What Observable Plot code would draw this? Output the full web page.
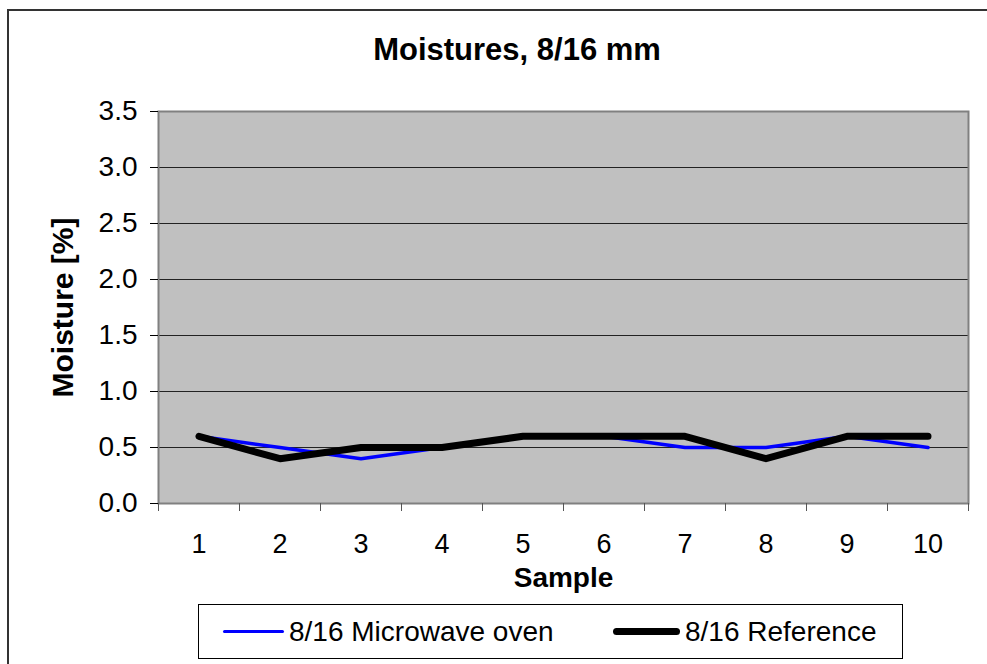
<!DOCTYPE html>
<html>
<head>
<meta charset="utf-8">
<script src="https://cdn.jsdelivr.net/npm/d3@7"></script>
<script src="https://cdn.jsdelivr.net/npm/@observablehq/plot@0.6"></script>
<style>
  html, body { margin: 0; padding: 0; background: #fff; }
  #chart { position: relative; width: 987px; height: 664px; overflow: hidden; font-family: "Liberation Sans", Arial, sans-serif; }
  #border { position: absolute; left: 7px; top: 9px; width: 990px; height: 700px; border: 2px solid #333; box-sizing: border-box; }
  #title { position: absolute; top: 32px; left: 517px; transform: translateX(-50%); font-weight: bold; font-size: 31px; line-height: 36px; white-space: nowrap; }
  #legend { position: absolute; left: 198px; top: 604px; width: 705px; height: 55px; border: 1px solid #000; box-sizing: border-box; font-size: 28px; }
  .item { position: absolute; top: 0; height: 53px; display: flex; align-items: center; white-space: nowrap; }
  .sw { display: inline-block; border-radius: 4px; margin-right: 5px; }
  #plot { position: absolute; left: 0; top: 0; }
</style>
</head>
<body>
<div id="chart">
  <div id="border"></div>
  <div id="plot"></div>
  <div id="title"></div>
  <div id="legend"></div>
</div>
<script>
const title = "Moistures, 8/16 mm";
const xLabel = "Sample";
const yLabel = "Moisture [%]";
const samples = [1, 2, 3, 4, 5, 6, 7, 8, 9, 10];
const microwave = [0.6, 0.5, 0.4, 0.5, 0.6, 0.6, 0.5, 0.5, 0.6, 0.5];
const reference = [0.6, 0.4, 0.5, 0.5, 0.6, 0.6, 0.6, 0.4, 0.6, 0.6];
const yTicks = [0, 0.5, 1.0, 1.5, 2.0, 2.5, 3.0, 3.5];
const seriesNames = ["8/16 Microwave oven", "8/16 Reference"];
const seriesColors = ["#0000ff", "#000000"];
const seriesWidths = [3.5, 7];

const rowsMw = samples.map((s, i) => ({sample: s, value: microwave[i]}));
const rowsRef = samples.map((s, i) => ({sample: s, value: reference[i]}));
const xEdges = d3.range(samples.length + 1).map(i => samples[0] - 0.5 + i);

const font = "Liberation Sans, Arial, sans-serif";

const chart = Plot.plot({
  width: 987,
  height: 600,
  marginLeft: 158,
  marginRight: 19,
  marginTop: 111,
  marginBottom: 97,
  style: {fontFamily: font, fontSize: "28px", background: "transparent", overflow: "visible"},
  x: {domain: [samples[0] - 0.5, samples[samples.length - 1] + 0.5]},
  y: {domain: [yTicks[0], yTicks[yTicks.length - 1]]},
  marks: [
    Plot.frame({fill: "#c0c0c0"}),
    Plot.gridY(yTicks.slice(1, -1), {stroke: "#222", strokeOpacity: 1, strokeWidth: 1}),
    Plot.line(rowsMw, {x: "sample", y: "value", stroke: seriesColors[0], strokeWidth: seriesWidths[0], strokeLinejoin: "miter"}),
    Plot.line(rowsRef, {x: "sample", y: "value", stroke: seriesColors[1], strokeWidth: seriesWidths[1], strokeLinecap: "round", strokeLinejoin: "round"}),
    Plot.frame({stroke: "#808080", strokeWidth: 2}),
    Plot.axisY(yTicks, {tickSize: 8, tickPadding: 13, tickFormat: d => d.toFixed(1), label: null, fontSize: 28, stroke: "#000"}),
    Plot.axisX(xEdges, {tickSize: 8, tickFormat: () => "", label: null, stroke: "#555"}),
    Plot.axisX(samples, {tickSize: 0, tickPadding: 30, label: null, fontSize: 27}),
    Plot.text([xLabel], {frameAnchor: "bottom", dy: 83, fontWeight: "bold", fontSize: 28}),
    Plot.text([yLabel], {frameAnchor: "left", dx: -95, rotate: -90, textAnchor: "middle", fontWeight: "bold", fontSize: 30})
  ]
});
document.getElementById("plot").appendChild(chart);
document.getElementById("title").textContent = title;

const legend = document.getElementById("legend");
const lefts = [24, 414];
const swW = [61, 67];
seriesNames.forEach((name, i) => {
  const item = document.createElement("div");
  item.className = "item";
  item.style.left = lefts[i] + "px";
  const sw = document.createElement("span");
  sw.className = "sw";
  sw.style.width = swW[i] + "px";
  sw.style.height = seriesWidths[i] + "px";
  sw.style.background = seriesColors[i];
  item.appendChild(sw);
  const t = document.createElement("span");
  t.textContent = name;
  item.appendChild(t);
  legend.appendChild(item);
});
</script>
</body>
</html>
